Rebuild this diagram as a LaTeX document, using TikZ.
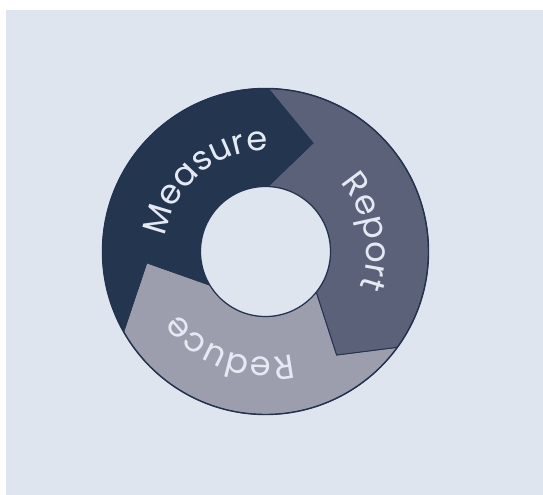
\documentclass[tikz,border=0pt]{standalone}
\usepackage{fontspec}
\newfontfamily\poppins{Poppins}
\usetikzlibrary{decorations.text}
\definecolor{bgc}{HTML}{DFE5EF}
\definecolor{navy}{HTML}{243550}
\definecolor{slate}{HTML}{5A6178}
\definecolor{greyc}{HTML}{9C9EAE}
\definecolor{edge}{HTML}{22334F}
\definecolor{txt}{HTML}{E4E9F2}
\newcommand{\lblfont}{\poppins\fontsize{34}{34}\selectfont}
\tikzset{
  seg/.style={draw=edge, line width=0.9bp, line join=miter},
  lbl/.style={decorate, decoration={text along path, text align=center, text color=txt}}
}
\begin{document}
\begin{tikzpicture}[x=1bp, y=1bp]
\useasboundingbox (-265.5,251.5) rectangle (277.5,-243.5);
\fill[white] (-265.5,251.5) rectangle (277.5,-243.5);
\fill[bgc] (-259.5,241.5) rectangle (277.5,-243.5);
\coordinate (c) at (0,0);
% Reduce
\path[seg, fill=greyc] (-36:163) arc[start angle=-36, end angle=-150.5, radius=163]
  -- (185.4:119.3) -- (-148.9:65) arc[start angle=-148.9, end angle=-38.6, radius=65]
  -- (-55.5:125.6) -- cycle;
% Report
\path[seg, fill=slate] (89.1:163) arc[start angle=89.1, end angle=-36, radius=163]
  -- (-55.5:125.6) -- (-38.6:65) arc[start angle=-38.6, end angle=88, radius=65]
  -- (66.4:118.4) -- cycle;
% Measure
\path[seg, draw=navy, fill=navy] (89.1:163) arc[start angle=89.1, end angle=209.5, radius=163]
  -- (185.4:119.3) -- (211.1:65) arc[start angle=211.1, end angle=88, radius=65]
  -- (66.4:118.4) -- cycle;
% rings
\node[circle, draw=edge, line width=1.4bp, minimum size=326bp, inner sep=0pt] (outer) at (c) {};
\node[circle, draw=edge, fill=bgc, line width=1.2bp, minimum size=130bp, inner sep=0pt] (inner) at (c) {};
% labels
\path[lbl, decoration={text={|\lblfont|Measure}}] (175:101) arc[start angle=175, end angle=85, radius=101];
\path[lbl, decoration={text={|\lblfont|Report}}] (56:101) arc[start angle=56, end angle=-34, radius=101];
\path[lbl, decoration={text={|\lblfont|Reduce}}] (294:106) arc[start angle=294, end angle=206, radius=106];
\end{tikzpicture}
\end{document}
